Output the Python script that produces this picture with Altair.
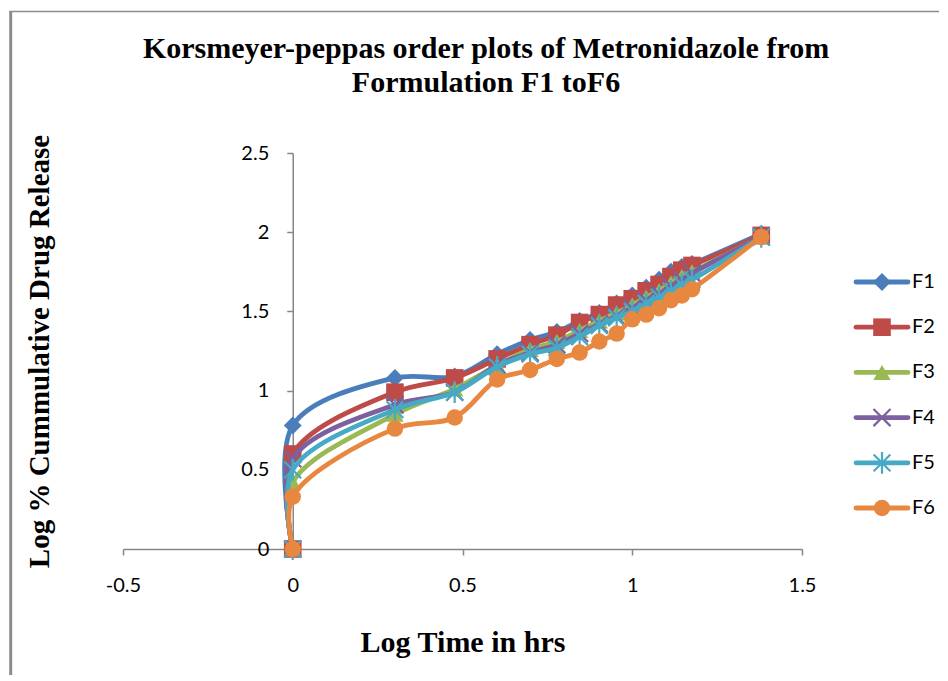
import altair as alt
import pandas as pd

# ---------------- data ----------------
series = ["F1", "F2", "F3", "F4", "F5", "F6"]
log_time = [0, 0, 0.301, 0.477, 0.602, 0.699, 0.778, 0.845, 0.903, 0.954,
            1.0, 1.041, 1.079, 1.114, 1.146, 1.176, 1.380]
F1 = [0, 0.78, 1.08, 1.09, 1.23, 1.32, 1.37, 1.44, 1.49, 1.55, 1.60, 1.65, 1.70, 1.75, 1.78, 1.80, 1.99]
F2 = [0, 0.60, 0.99, 1.08, 1.20, 1.29, 1.35, 1.43, 1.48, 1.54, 1.58, 1.63, 1.67, 1.72, 1.76, 1.79, 1.98]
F3 = [0, 0.42, 0.85, 1.01, 1.16, 1.26, 1.31, 1.38, 1.44, 1.49, 1.54, 1.59, 1.63, 1.68, 1.72, 1.75, 1.97]
F4 = [0, 0.57, 0.91, 0.99, 1.16, 1.24, 1.29, 1.36, 1.42, 1.47, 1.52, 1.57, 1.61, 1.66, 1.70, 1.74, 1.97]
F5 = [0, 0.50, 0.88, 0.99, 1.15, 1.23, 1.27, 1.34, 1.41, 1.46, 1.50, 1.55, 1.59, 1.63, 1.67, 1.70, 1.97]
F6 = [0, 0.33, 0.76, 0.83, 1.07, 1.13, 1.20, 1.24, 1.31, 1.36, 1.45, 1.48, 1.52, 1.57, 1.60, 1.64, 1.97]
values = {"F1": F1, "F2": F2, "F3": F3, "F4": F4, "F5": F5, "F6": F6}

x_ticks = [-0.5, 0, 0.5, 1, 1.5]
y_ticks = [0, 0.5, 1, 1.5, 2, 2.5]

# ---------------- styles ----------------
colors = ["#4A7EBB", "#BE4B48", "#98B954", "#7D60A0", "#46AAC5", "#E8873F"]
x_path = "M-1,-1L1,1M-1,1L1,-1"
star_path = "M-1,-1L1,1M-1,1L1,-1M0,-1.3L0,1.3"
shapes = ["diamond", "square", "triangle-up", x_path, star_path, "circle"]
sizes = [320, 270, 280, 180, 210, 340]
filled_series = ["F1", "F2", "F3", "F6"]
open_series = ["F4", "F5"]

rows = []
for s in series:
    for i, (xv, yv) in enumerate(zip(log_time, values[s])):
        rows.append({"series": s, "idx": i, "x": xv, "y": yv})
df = pd.DataFrame(rows)

AXIS_GREY = "#868686"
LABEL_FONT = "Lato"
TITLE_FONT = "Liberation Serif"

PW, PH = 679, 396

X = alt.X(
    "x:Q",
    scale=alt.Scale(domain=[-0.5, 1.5], nice=False, zero=False),
    axis=alt.Axis(
        values=x_ticks, grid=False, labelExpr="datum.value + ''",
        domainColor=AXIS_GREY, domainWidth=1.5, tickColor=AXIS_GREY, tickWidth=1.5,
        tickSize=6, labelFont=LABEL_FONT, labelFontSize=20, labelColor="black",
        labelPadding=20, labelFlush=False,
        title="Log Time in hrs", titleFont=TITLE_FONT, titleFontSize=30,
        titleFontWeight="bold", titleColor="black", titleX=PW / 2, titleY=93,
        titleBaseline="middle", titleAlign="center",
    ),
)
Y = alt.Y(
    "y:Q",
    scale=alt.Scale(domain=[0, 2.5], nice=False, zero=False),
    axis=alt.Axis(
        values=y_ticks, grid=False, labelExpr="datum.value + ''",
        offset=-PW * 0.25,
        domainColor=AXIS_GREY, domainWidth=1.5, tickColor=AXIS_GREY, tickWidth=1.5,
        tickSize=6, labelFont=LABEL_FONT, labelFontSize=20, labelColor="black",
        labelPadding=18, labelFlush=False,
        title="Log %  Cummulative Drug Release", titleFont=TITLE_FONT, titleFontSize=29,
        titleFontWeight="bold", titleColor="black", titleX=-253, titleY=PH / 2,
        titleAngle=270, titleBaseline="middle", titleAlign="center",
    ),
)
C = alt.Color("series:N", scale=alt.Scale(domain=series, range=colors), legend=None)
S = alt.Shape("series:N", scale=alt.Scale(domain=series, range=shapes), legend=None)
Z = alt.Size("series:N", scale=alt.Scale(domain=series, range=sizes), legend=None)

layers = []
# frame of the chart area (decoration)
frame_df = pd.DataFrame({"a": [0]})
layers.append(alt.Chart(frame_df).mark_rule(color="#8C8C8C", strokeWidth=3).encode(
    x=alt.value(-112.3), y=alt.value(-142), y2=alt.value(522)))
layers.append(alt.Chart(frame_df).mark_rule(color="#8C8C8C", strokeWidth=1.5).encode(
    x=alt.value(-113.8), x2=alt.value(816), y=alt.value(-141.5)))

for s in series:
    base = alt.Chart(df).transform_filter(alt.datum.series == s)
    layers.append(base.mark_line(interpolate="catmull-rom", strokeWidth=4.8).encode(
        x=X, y=Y, order="idx:Q", color=C))
    if s in filled_series:
        layers.append(base.mark_point(filled=True, opacity=1).encode(
            x=X, y=Y, color=C, shape=S, size=Z))
    else:
        layers.append(base.mark_point(filled=False, opacity=1, strokeWidth=2.2).encode(
            x=X, y=Y, color=C, shape=S, size=Z))

main = alt.layer(*layers).properties(
    width=PW, height=PH,
    title=alt.TitleParams(
        ["Korsmeyer-peppas order plots of Metronidazole from", "Formulation F1 toF6"],
        font=TITLE_FONT, fontSize=30, fontWeight="bold", color="black",
        anchor="middle", frame="group", dx=23.5, dy=146, lineHeight=34, offset=58,
    ),
)

# ---------------- legend panel ----------------
leg = pd.DataFrame({"series": series})
YL = alt.Y("series:N", scale=alt.Scale(type="point", domain=series, range=[129, 355], padding=0),
           axis=None)
leg_rule = alt.Chart(leg).mark_rule(strokeWidth=4.8, strokeCap="round").encode(
    y=YL, x=alt.value(0), x2=alt.value(52), color=C)
leg_pf = alt.Chart(leg).transform_filter(
    alt.FieldOneOfPredicate(field="series", oneOf=filled_series)
).mark_point(filled=True, opacity=1).encode(y=YL, x=alt.value(26), color=C, shape=S, size=Z)
leg_po = alt.Chart(leg).transform_filter(
    alt.FieldOneOfPredicate(field="series", oneOf=open_series)
).mark_point(filled=False, opacity=1, strokeWidth=2.2).encode(
    y=YL, x=alt.value(26), color=C, shape=S, size=Z)
leg_txt = alt.Chart(leg).mark_text(
    align="left", baseline="middle", font=LABEL_FONT, fontSize=20, color="black"
).encode(y=YL, x=alt.value(56), text="series:N")
legend = alt.layer(leg_rule, leg_pf, leg_po, leg_txt).properties(width=80, height=PH)

chart = alt.hconcat(main, legend, spacing=54, bounds="flush").properties(
    padding={"left": 0, "top": 1, "right": 0, "bottom": 0},
    background="white",
).configure_view(strokeWidth=0, stroke=None)

chart.save("out.html", embed_options={"renderer": "svg", "actions": False})
